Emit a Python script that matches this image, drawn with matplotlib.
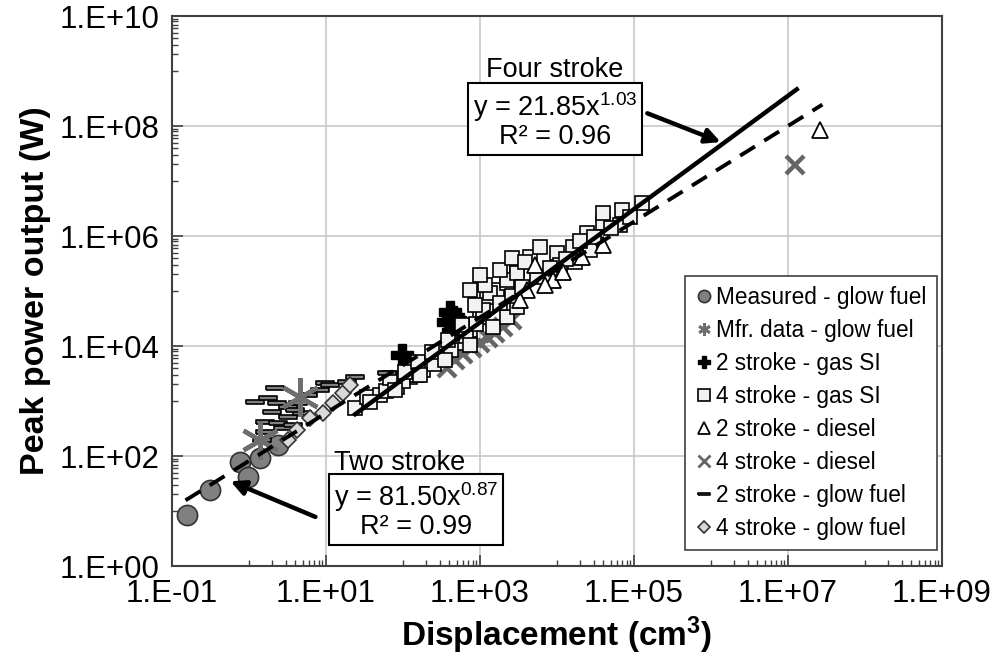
import numpy as np
import matplotlib.pyplot as plt
from matplotlib.lines import Line2D
from matplotlib.ticker import FixedLocator, FuncFormatter, NullFormatter

plt.rcParams['font.family'] = ['Liberation Sans', 'DejaVu Sans']
plt.rcParams['mathtext.fontset'] = 'custom'
plt.rcParams['mathtext.rm'] = 'Liberation Sans'
plt.rcParams['mathtext.bf'] = 'Liberation Sans:bold'
plt.rcParams['mathtext.it'] = 'Liberation Sans:italic'

# displacement (cm^3) and peak power (W) per engine group
meas_glow_x = [0.155, 0.31, 0.76, 0.97, 1.39, 2.38]
meas_glow_y = [8.5, 24, 78, 41.5, 92, 158]

mfr_glow_x = [1.39, 4.6]
mfr_glow_y = [195, 1180]

gas2_x = [97, 384, 408, 446, 446, 503, 470]
gas2_y = [6860, 27500, 41500, 33700, 17900, 22300, 30000]

gas4_x = [23.8, 34, 50, 83, 123, 181, 302, 550, 740, 1000, 1230, 1660, 2240,
          3000, 4450, 1480, 2240, 3000, 1350, 2240, 3000, 6000, 10000, 16200,
          24600, 39600, 39600, 69800, 126000, 66000, 11000, 17000, 26700,
          60, 100, 150, 250, 420, 650, 900, 1100, 1800, 2600, 3500, 5500,
          8000, 13000, 20000, 30000, 50000, 90000,
          68, 107, 156, 240, 380, 590, 870, 1150, 1820, 2610, 3850, 1000, 740,
          37, 79, 166, 355, 740]
gas4_y = [745, 1180, 1290, 1790, 2740, 3650, 6300, 11300, 19500, 33700,
          77700, 104000, 140000, 241000, 417000, 22300, 33700, 51000, 91000,
          160000, 213000, 630000, 490000, 630000, 1130000, 1730000, 2630000,
          2960000, 3970000, 1580000, 297000, 338000, 560000,
          1500, 2300, 3000, 4800, 8500, 15000, 25000, 45000, 60000, 80000,
          120000, 180000, 260000, 380000, 800000, 950000, 1400000, 2200000,
          2630, 3380, 5130, 7760, 12900, 24000, 56000, 129000, 240000, 400000,
          338000, 195000, 104000,
          960, 1580, 2950, 5600, 10500]

dsl2_x = [4100, 5130, 8870, 11900, 21000, 39600, 3300, 6900, 2.6e7]
dsl2_y = [104000, 297000, 158000, 222000, 417000, 690000, 69000, 129000, 8.5e7]

dsl4_x = [372, 473, 603, 787, 1000, 1260, 1570, 1990, 2600, 1.23e7]
dsl4_y = [3980, 5560, 7160, 9130, 11300, 14000, 17300, 22300, 29600, 1.95e7]

glow2_x = [1.48, 1.61, 1.61, 1.2, 1.99, 2.18, 2.31, 2.38, 2.77, 3.21, 3.21,
           3.72, 4.33, 4.88, 5.84, 8.35, 9.7, 11.3, 18.6, 23.8, 62, 1.77, 3.95]
glow2_y = [195, 274, 415, 960, 630, 1730, 920, 400, 323, 780, 510, 365, 920,
           605, 1290, 1580, 2140, 1950, 2220, 2740, 3230, 1130, 690]

glow4_x = [3.2, 4.2, 6.2, 9.1, 12.3, 16.6, 20.5]
glow4_y = [195, 297, 490, 605, 920, 1400, 1950]

# power-law fits y = a * x^b
two_a, two_b = 81.50, 0.87
four_a, four_b = 21.85, 1.03
two_range = [0.15, 2.8e7]
four_range = [24, 1.3e7]

legend_labels = ["Measured - glow fuel", "Mfr. data - glow fuel",
                 "2 stroke - gas SI", "4 stroke - gas SI",
                 "2 stroke - diesel", "4 stroke - diesel",
                 "2 stroke - glow fuel", "4 stroke - glow fuel"]

bar = [(-1, -0.22), (1, -0.22), (1, 0.22), (-1, 0.22), (-1, -0.22)]

styles = [
    dict(marker='o', ms=14.5, mfc='#808080', mec='#333333', mew=1.2),
    dict(marker=(6, 2, 0), ms=28, mfc='#6e6e6e', mec='#6e6e6e', mew=3.2),
    dict(marker='P', ms=16, mfc='black', mec='black', mew=1),
    dict(marker='s', ms=10.5, mfc='#f2f2f2', mec='black', mew=1.2),
    dict(marker='^', ms=12, mfc='white', mec='black', mew=1.3),
    dict(marker='x', ms=13, mfc='#666666', mec='#666666', mew=3.2),
    dict(marker=bar, ms=13, mfc='#808080', mec='black', mew=1.2),
    dict(marker='D', ms=8, mfc='#d9d9d9', mec='#333333', mew=1.2),
]
zorders = [3, 3.65, 3.2, 3.4, 3.5, 3.3, 3.6, 3.7]
series = [(meas_glow_x, meas_glow_y), (mfr_glow_x, mfr_glow_y),
          (gas2_x, gas2_y), (gas4_x, gas4_y), (dsl2_x, dsl2_y),
          (dsl4_x, dsl4_y), (glow2_x, glow2_y), (glow4_x, glow4_y)]

fig = plt.figure(figsize=(9.97, 6.57), dpi=100)
ax = fig.add_axes([0.1725, 0.1385, 0.7723, 0.8371])

for (xs, ys), st, z in zip(series, styles, zorders):
    ax.plot(xs, ys, linestyle='none', zorder=z, **st)

xf = np.logspace(np.log10(two_range[0]), np.log10(two_range[1]), 50)
ax.plot(xf, two_a * xf**two_b, color='black', lw=2.8, ls=(0, (4.5, 2.8)), zorder=4)
xf = np.logspace(np.log10(four_range[0]), np.log10(four_range[1]), 50)
ax.plot(xf, four_a * xf**four_b, color='black', lw=3.2, zorder=4)

ax.set_xscale('log')
ax.set_yscale('log')
ax.set_xlim(1e-1, 1e9)
ax.set_ylim(1e0, 1e10)

fmt = FuncFormatter(lambda v, p: "1.E%+03d" % int(round(np.log10(v))))
ax.xaxis.set_major_locator(FixedLocator([10.0**e for e in range(-1, 10, 2)]))
ax.yaxis.set_major_locator(FixedLocator([10.0**e for e in range(0, 11, 2)]))
ax.xaxis.set_minor_locator(FixedLocator([k * 10.0**e for e in range(0, 9, 2) for k in range(1, 10)]))
ax.yaxis.set_minor_locator(FixedLocator([k * 10.0**e for e in range(1, 10, 2) for k in range(1, 10)]))
ax.xaxis.set_major_formatter(fmt)
ax.yaxis.set_major_formatter(fmt)
ax.xaxis.set_minor_formatter(NullFormatter())
ax.yaxis.set_minor_formatter(NullFormatter())
ax.tick_params(which='both', direction='in', colors='#404040', labelcolor='black',
               labelsize=22.5, top=False, right=False)
ax.tick_params(which='major', length=8, width=1.2, pad=9)
ax.tick_params(which='minor', length=4, width=1.0)
ax.grid(True, which='major', color='#c8c8c8', lw=1.2, zorder=0)
ax.set_axisbelow(True)
for s in ax.spines.values():
    s.set_color('#404040')
    s.set_linewidth(1.5)

ax.set_xlabel("Displacement (cm$^{\\mathbf{3}}$)", fontsize=24, fontweight='bold', labelpad=4)
ax.set_ylabel("Peak power output (W)", fontsize=24.5, fontweight='bold', labelpad=6)

# fit annotations
box = dict(boxstyle='square,pad=0.18', fc='white', ec='black', lw=1.5)
ax.text(10**3.97, 10**9.02, "Four stroke", fontsize=19.5, ha='center', va='center', zorder=6)
ax.text(10**3.97, 10**8.11, "y = 21.85x$^{\\mathrm{1.03}}$\nR² = 0.96", fontsize=19.5,
        ha='center', va='center', bbox=box, zorder=6, linespacing=1.0)
ax.annotate("", xy=(10**6.16, 10**7.69), xytext=(10**5.14, 10**8.25),
            arrowprops=dict(arrowstyle='-|>', lw=3.2, color='black', mutation_scale=22),
            zorder=6)

ax.text(10**1.96, 10**1.87, "Two stroke", fontsize=19.5, ha='center', va='center', zorder=6)
ax.text(10**2.17, 10**1.01, "y = 81.50x$^{\\mathrm{0.87}}$\nR² = 0.99", fontsize=19.5,
        ha='center', va='center', bbox=box, zorder=6, linespacing=1.0)
ax.annotate("", xy=(10**-0.273, 10**1.56), xytext=(10**0.896, 10**0.873),
            arrowprops=dict(arrowstyle='-|>', lw=3.2, color='black', mutation_scale=22),
            zorder=6)

handles = []
for st in styles:
    h = dict(st)
    h['ms'] = min(st['ms'], 11) * 0.8
    h['mew'] = min(st['mew'], 2.0)
    handles.append(Line2D([], [], linestyle='none', **h))
leg = ax.legend(handles, legend_labels, loc='upper left', bbox_to_anchor=(0.666, 0.527),
                fontsize=16.3, frameon=True, fancybox=False, edgecolor='#404040',
                framealpha=1, handlelength=0.8, handletextpad=0.15, labelspacing=0.44,
                borderpad=0.45, borderaxespad=0)
leg.get_frame().set_linewidth(1.2)
leg.set_zorder(7)

fig.savefig("out.png", dpi=100)
